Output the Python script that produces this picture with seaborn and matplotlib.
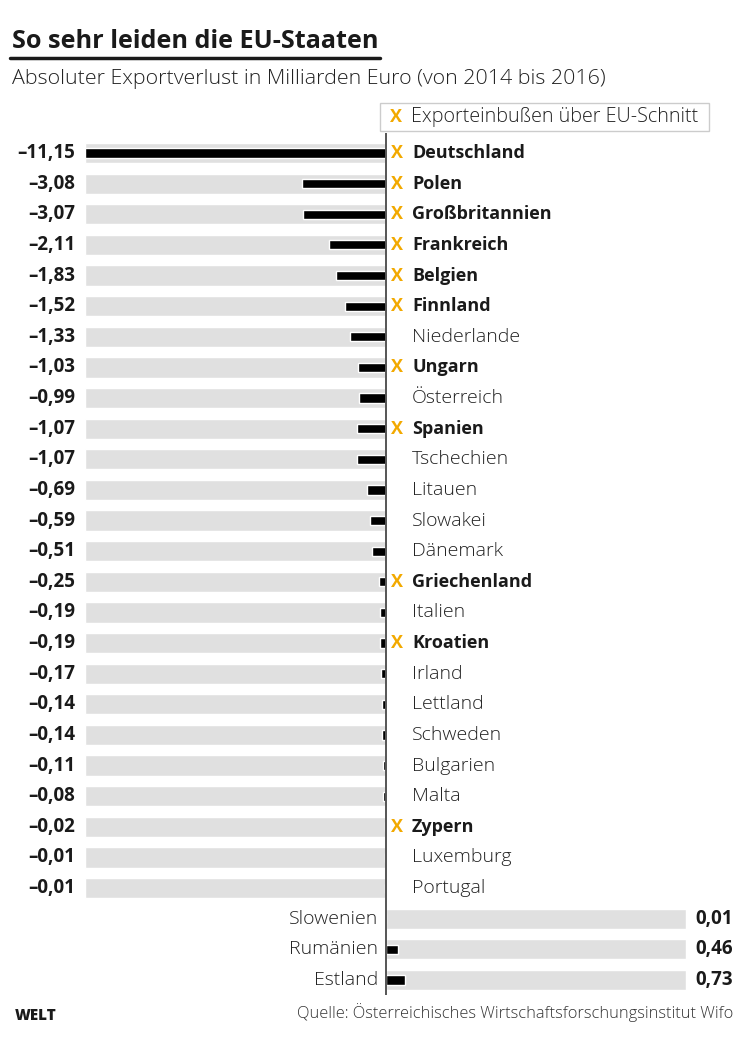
import numpy as np
import pandas as pd
import matplotlib
matplotlib.use('Agg')
import matplotlib.pyplot as plt
import matplotlib.transforms as mtransforms
from matplotlib.lines import Line2D
from matplotlib.patches import Rectangle
import seaborn as sns

# Daten (Exportverlust in Mrd. Euro, 2014 bis 2016)
laender = ['Deutschland', 'Polen', 'Großbritannien', 'Frankreich', 'Belgien', 'Finnland',
           'Niederlande', 'Ungarn', 'Österreich', 'Spanien', 'Tschechien', 'Litauen',
           'Slowakei', 'Dänemark', 'Griechenland', 'Italien', 'Kroatien', 'Irland',
           'Lettland', 'Schweden', 'Bulgarien', 'Malta', 'Zypern', 'Luxemburg',
           'Portugal', 'Slowenien', 'Rumänien', 'Estland']
werte = [-11.15, -3.08, -3.07, -2.11, -1.83, -1.52, -1.33, -1.03, -0.99, -1.07, -1.07,
         -0.69, -0.59, -0.51, -0.25, -0.19, -0.19, -0.17, -0.14, -0.14, -0.11, -0.08,
         -0.02, -0.01, -0.01, 0.01, 0.46, 0.73]
ueber_schnitt = ['Deutschland', 'Polen', 'Großbritannien', 'Frankreich', 'Belgien',
                 'Finnland', 'Ungarn', 'Spanien', 'Griechenland', 'Kroatien', 'Zypern']

sns.set_style('white')
plt.rcParams['font.family'] = ['Open Sans', 'DejaVu Sans']

W, H = 748, 1049
ORANGE = '#f2a900'
GRAU = '#e0e0e0'
TEXT = '#1a1a1a'
DUENN = 'light'


def fx(px):
    return px / W


def fy(py):
    return 1 - py / H


werte_arr = np.array(werte)
max_abs = np.abs(werte_arr).max()
hintergrund = np.where(werte_arr < 0, -max_abs, max_abs)

fig = plt.figure(figsize=(W / 100, H / 100), dpi=100)
ax = fig.add_axes([fx(85), fy(995), fx(686) - fx(85), (995 - 133) / H])

sns.barplot(x=hintergrund, y=laender, orient='h', color=GRAU, width=0.66,
            errorbar=None, ax=ax, saturation=1)
sns.barplot(x=werte_arr, y=laender, orient='h', color='black', width=0.3,
            errorbar=None, ax=ax, saturation=1)

zeile = (980 - 153) / 27
ax.set_xlim(-max_abs, max_abs)
ax.set_ylim(27 + 15 / zeile, -20 / zeile)
ax.axvline(0, color='#555555', lw=1.4)
ax.axis('off')

trans = mtransforms.blended_transform_factory(fig.transFigure, ax.transData)


def fmt(v):
    s = f'{abs(v):.2f}'.replace('.', ',')
    return ('–' if v < 0 else '') + s


FS_WERT = 13.5
FS_FETT = 13
FS_NORM = 14
for i, (land, wert) in enumerate(zip(laender, werte)):
    if wert < 0:
        ax.text(fx(75), i, fmt(wert), transform=trans, ha='right', va='center',
                fontsize=FS_WERT, fontweight='bold', color=TEXT)
        if land in ueber_schnitt:
            ax.text(fx(397), i, 'X', transform=trans, ha='center', va='center',
                    fontsize=FS_FETT, fontweight='bold', color=ORANGE)
            ax.text(fx(412), i, land, transform=trans, ha='left', va='center',
                    fontsize=FS_FETT, fontweight='bold', color=TEXT)
        else:
            ax.text(fx(412), i, land, transform=trans, ha='left', va='center',
                    fontsize=FS_NORM, fontweight=DUENN, color='#222222')
    else:
        ax.text(fx(378), i, land, transform=trans, ha='right', va='center',
                fontsize=FS_NORM, fontweight=DUENN, color='#222222')
        ax.text(fx(733), i, fmt(wert), transform=trans, ha='right', va='center',
                fontsize=FS_WERT, fontweight='bold', color=TEXT)

# Titel und Untertitel
fig.text(fx(12), fy(41), 'So sehr leiden die EU-Staaten', ha='left', va='center',
         fontsize=18.2, fontweight='bold', color=TEXT)
fig.add_artist(Line2D([fx(10), fx(380)], [fy(58), fy(58)], lw=2.5, color=TEXT))
fig.text(fx(12), fy(79), 'Absoluter Exportverlust in Milliarden Euro (von 2014 bis 2016)',
         ha='left', va='center', fontsize=15.4, fontweight=DUENN, color='#222222')

# Legende
fig.add_artist(Rectangle((fx(380), fy(131)), fx(709) - fx(380), (131 - 103) / H,
                         transform=fig.transFigure, facecolor='white',
                         edgecolor='#cccccc', lw=1))
fig.text(fx(396), fy(117), 'X', ha='center', va='center', fontsize=FS_FETT,
         fontweight='bold', color=ORANGE)
fig.text(fx(411), fy(117), 'Exporteinbußen über EU-Schnitt', ha='left', va='center',
         fontsize=14.2, fontweight=DUENN, color='#222222')

# Fußzeile
fig.text(fx(15), fy(1016), 'WELT', ha='left', va='center', fontsize=11,
         fontweight='heavy', color=TEXT)
fig.text(fx(733), fy(1013), 'Quelle: Österreichisches Wirtschaftsforschungsinstitut Wifo',
         ha='right', va='center', fontsize=11.8, fontweight=DUENN, color='#333333')

fig.savefig('out.png', dpi=100, facecolor='white')
